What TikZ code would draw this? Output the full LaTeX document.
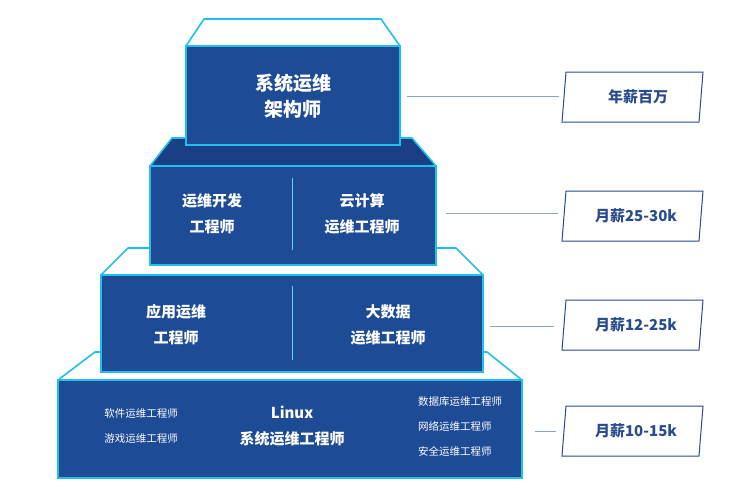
\documentclass[tikz,border=0pt]{standalone}
\usepackage{fontspec}
\setmainfont{Noto Sans CJK SC}
\begin{document}
\begin{tikzpicture}[x=1pt,y=-1pt,
  front/.style={fill=navy,draw=cyanb,line width=1.6pt},
  wtop/.style={fill=white,draw=cyanb,line width=1.6pt,line join=round},
  btop/.style={fill=navyd,draw=cyanb,line width=1.6pt,line join=round},
  lab/.style={draw=labc,line width=1pt,fill=white},
  labt/.style={text=labc,font=\bfseries\fontsize{15}{18}\selectfont},
  big/.style={text=white,font=\bfseries\fontsize{19}{26}\selectfont,align=center},
  mid/.style={text=white,font=\bfseries\fontsize{15}{26}\selectfont,align=center},
  small/.style={text=white,font=\fontsize{10.5}{25}\selectfont,align=left},
  conn/.style={draw=linec,line width=1pt},
  div/.style={draw=cyanb!70!white,line width=0.8pt}]
\definecolor{navy}{HTML}{1E4B95}
\definecolor{navyd}{HTML}{1B3F85}
\definecolor{cyanb}{HTML}{1FC0EC}
\definecolor{labc}{HTML}{2A4C8C}
\definecolor{linec}{HTML}{8AA6C4}
\useasboundingbox (0,0) rectangle (733,488);
% tier 4
\draw[wtop] (95,352) -- (487,352) -- (522,380) -- (58,380) -- cycle;
\draw[front] (58,380) rectangle (522,478);
% tier 3
\draw[wtop] (128,248) -- (456,248) -- (483,275) -- (101,275) -- cycle;
\draw[front] (101,275) rectangle (483,372);
% tier 2
\draw[btop] (172,138) -- (412,138) -- (436,166) -- (150,166) -- cycle;
\draw[front] (150,166) rectangle (436,265);
% tier 1
\draw[wtop] (204,19) -- (381,19) -- (400,46) -- (186,46) -- cycle;
\draw[front] (186,46) rectangle (400,145);
% dividers
\coordinate (d1a) at (292,178); \coordinate (d1b) at (292,250);
\coordinate (d2a) at (292,286); \coordinate (d2b) at (292,360);
\draw[div] (d1a) -- (d1b);
\draw[div] (d2a) -- (d2b);
% texts
\node[big] (t1) at (293,96) {系统运维\\架构师};
\node[mid] (t2a) at (212,214) {运维开发\\工程师};
\node[mid] (t2b) at (362,214) {云计算\\运维工程师};
\node[mid] (t3a) at (176,325) {应用运维\\工程师};
\node[mid] (t3b) at (388,325) {大数据\\运维工程师};
\node[mid] (t4) at (292,426) {Linux\\系统运维工程师};
\node[small] (t4a) at (141,426) {软件运维工程师\\游戏运维工程师};
\node[small] (t4b) at (460,427) {数据库运维工程师\\网络运维工程师\\安全运维工程师};
% labels
\node[lab,minimum width=138,minimum height=50,inner sep=0pt,draw=none,fill=none] (L1) at (632,97) {};
\draw[lab] (566,72) -- (703,72) -- (699,122) -- (562,122) -- cycle;
\node[labt] (l1) at (638,97) {年薪百万};
\node[draw=none] (L2) at (632,216) {};
\draw[lab] (566,191) -- (703,191) -- (699,241) -- (562,241) -- cycle;
\node[labt] (l2) at (636,216) {月薪25-30k};
\node[draw=none] (L3) at (632,325) {};
\draw[lab] (566,300) -- (703,300) -- (699,350) -- (562,350) -- cycle;
\node[labt] (l3) at (636,325) {月薪12-25k};
\node[draw=none] (L4) at (632,431) {};
\draw[lab] (566,406) -- (703,406) -- (699,456) -- (562,456) -- cycle;
\node[labt] (l4) at (636,431) {月薪10-15k};
% connectors
\coordinate (c1a) at (407,96); \coordinate (c1b) at (559,96);
\coordinate (c2a) at (446,213); \coordinate (c2b) at (558,213);
\coordinate (c3a) at (490,326); \coordinate (c3b) at (554,326);
\coordinate (c4a) at (535,431); \coordinate (c4b) at (556,431);
\draw[conn] (c1a) -- (c1b);
\draw[conn] (c2a) -- (c2b);
\draw[conn] (c3a) -- (c3b);
\draw[conn] (c4a) -- (c4b);
\end{tikzpicture}
\end{document}
